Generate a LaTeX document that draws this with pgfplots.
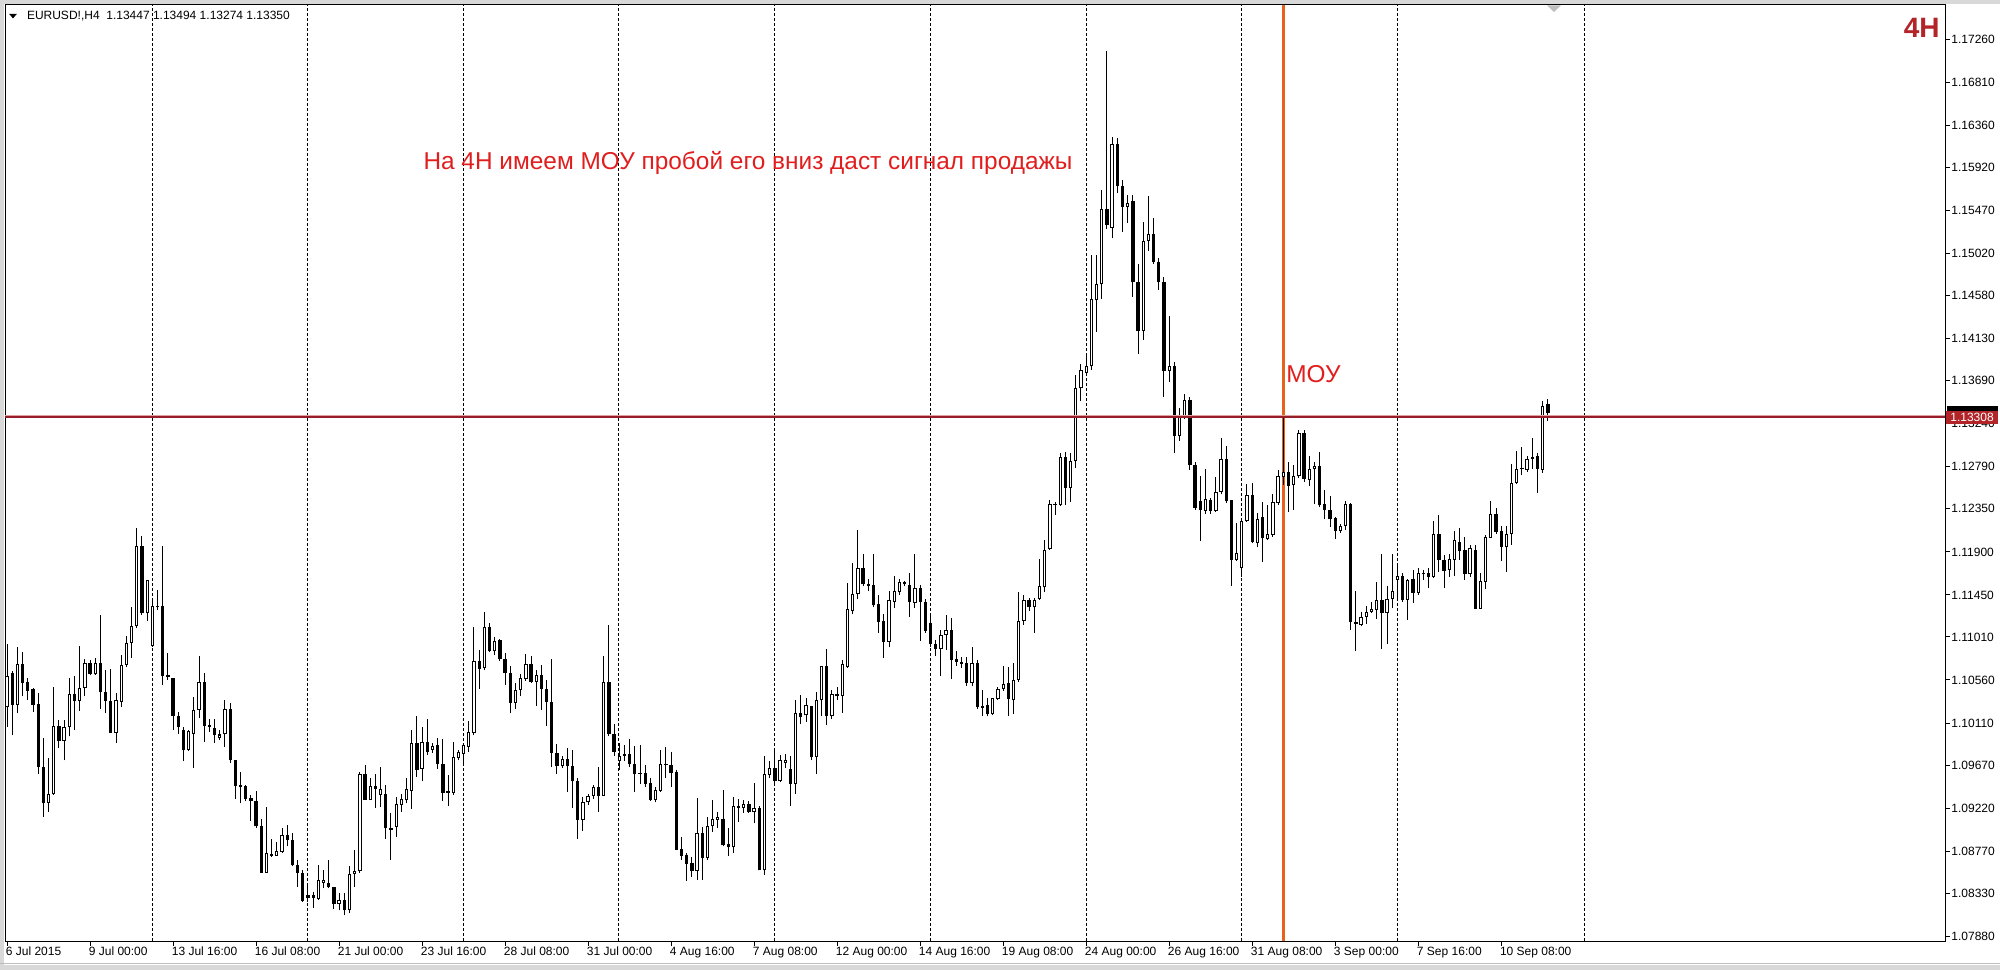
\documentclass[border=0pt]{standalone}
\usepackage{fontspec}
\setmainfont{Liberation Sans}
\usepackage{pgfplots}
\usepackage{pgfplotstable}
\pgfplotsset{compat=1.18}
\definecolor{hline}{RGB}{150,30,40}
\definecolor{hlinelt}{RGB}{225,160,160}
\definecolor{orng}{RGB}{232,98,30}
\definecolor{txtred}{RGB}{225,30,30}
\definecolor{lbl}{RGB}{178,36,40}
\definecolor{frm}{RGB}{190,190,190}

\pgfplotstableread{
i O H L C
0 1.1028 1.1094 1.1007 1.1060
1 1.1063 1.1065 1.0998 1.1030
2 1.1030 1.1091 1.1021 1.1073
3 1.1073 1.1085 1.1039 1.1053
4 1.1054 1.1058 1.1035 1.1045
5 1.1047 1.1048 1.1023 1.1030
6 1.1031 1.1042 1.0958 1.0965
7 1.0965 1.0995 1.0913 1.0927
8 1.0927 1.0974 1.0918 1.0937
9 1.0937 1.1049 1.0936 1.1008
10 1.1008 1.1014 1.0985 1.0992
11 1.0992 1.1014 1.0972 1.1007
12 1.1007 1.1058 1.0997 1.1041
13 1.1041 1.1060 1.1004 1.1034
14 1.1034 1.1092 1.1024 1.1048
15 1.1048 1.1078 1.1039 1.1074
16 1.1074 1.1077 1.1061 1.1062
17 1.1062 1.1079 1.1061 1.1074
18 1.1074 1.1124 1.1026 1.1043
19 1.1043 1.1066 1.1021 1.1034
20 1.1034 1.1067 1.1001 1.1001
21 1.1001 1.1042 1.0990 1.1035
22 1.1033 1.1082 1.1028 1.1072
23 1.1072 1.1102 1.1070 1.1095
24 1.1095 1.1132 1.1079 1.1112
25 1.1112 1.1215 1.1110 1.1196
26 1.1196 1.1207 1.1124 1.1126
27 1.1126 1.1161 1.1118 1.1161
28 1.1092 1.1142 1.1091 1.1133
29 1.1133 1.1150 1.1129 1.1132
30 1.1133 1.1196 1.1051 1.1060
31 1.1061 1.1084 1.1056 1.1059
32 1.1058 1.1058 1.1004 1.1018
33 1.1018 1.1023 1.1000 1.1007
34 1.1004 1.1007 1.0971 1.0983
35 1.0983 1.1004 1.0982 1.1003
36 1.1000 1.1038 1.0964 1.1025
37 1.1025 1.1081 1.1016 1.1054
38 1.1054 1.1063 1.0991 1.1008
39 1.1009 1.1015 1.1002 1.1007
40 1.1006 1.1015 1.0990 1.0998
41 1.0995 1.1004 1.0993 1.0999
42 1.0999 1.1035 1.0986 1.1026
43 1.1026 1.1032 1.0969 1.0972
44 1.0972 1.0972 1.0932 1.0945
45 1.0946 1.0960 1.0927 1.0944
46 1.0945 1.0946 1.0929 1.0932
47 1.0933 1.0936 1.0909 1.0929
48 1.0929 1.0940 1.0901 1.0903
49 1.0903 1.0911 1.0854 1.0854
50 1.0854 1.0923 1.0854 1.0875
51 1.0874 1.0890 1.0871 1.0872
52 1.0872 1.0887 1.0872 1.0877
53 1.0876 1.0901 1.0875 1.0894
54 1.0894 1.0904 1.0882 1.0889
55 1.0889 1.0896 1.0861 1.0863
56 1.0863 1.0868 1.0840 1.0854
57 1.0854 1.0857 1.0824 1.0825
58 1.0831 1.0843 1.0824 1.0828
59 1.0831 1.0834 1.0818 1.0828
60 1.0827 1.0862 1.0826 1.0847
61 1.0844 1.0857 1.0838 1.0847
62 1.0844 1.0868 1.0838 1.0839
63 1.0839 1.0840 1.0817 1.0822
64 1.0822 1.0833 1.0815 1.0826
65 1.0826 1.0833 1.0810 1.0815
66 1.0815 1.0861 1.0812 1.0853
67 1.0853 1.0878 1.0840 1.0856
68 1.0856 1.0960 1.0854 1.0958
69 1.0958 1.0967 1.0931 1.0931
70 1.0931 1.0953 1.0930 1.0945
71 1.0945 1.0958 1.0922 1.0942
72 1.0936 1.0965 1.0923 1.0942
73 1.0937 1.0946 1.0890 1.0901
74 1.0901 1.0917 1.0868 1.0899
75 1.0902 1.0934 1.0892 1.0926
76 1.0925 1.0937 1.0918 1.0932
77 1.0930 1.0953 1.0927 1.0942
78 1.0940 1.1004 1.0921 1.0990
79 1.0990 1.1018 1.0955 1.0962
80 1.0963 1.1007 1.0950 1.0991
81 1.0991 1.1015 1.0978 1.0981
82 1.0983 1.0990 1.0980 1.0987
83 1.0988 1.0995 1.0963 1.0968
84 1.0968 1.0994 1.0929 1.0938
85 1.0940 1.0957 1.0924 1.0938
86 1.0938 1.0991 1.0936 1.0975
87 1.0974 1.0983 1.0972 1.0981
88 1.0979 1.0990 1.0969 1.0988
89 1.0986 1.1013 1.0981 1.1002
90 1.1001 1.1111 1.0998 1.1076
91 1.1076 1.1087 1.1047 1.1068
92 1.1069 1.1127 1.1066 1.1111
93 1.1111 1.1116 1.1085 1.1086
94 1.1086 1.1101 1.1082 1.1097
95 1.1098 1.1099 1.1076 1.1078
96 1.1078 1.1084 1.1051 1.1063
97 1.1063 1.1071 1.1021 1.1032
98 1.1032 1.1053 1.1026 1.1046
99 1.1046 1.1062 1.1039 1.1058
100 1.1057 1.1083 1.1055 1.1073
101 1.1073 1.1081 1.1053 1.1054
102 1.1054 1.1066 1.1029 1.1061
103 1.1061 1.1072 1.1025 1.1047
104 1.1047 1.1056 1.1008 1.1033
105 1.1033 1.1078 1.0965 1.0980
106 1.0980 1.0989 1.0958 1.0966
107 1.0966 1.0977 1.0964 1.0973
108 1.0973 1.0985 1.0939 1.0966
109 1.0966 1.0983 1.0922 1.0950
110 1.0950 1.0953 1.0890 1.0910
111 1.0910 1.0934 1.0898 1.0928
112 1.0928 1.0937 1.0925 1.0935
113 1.0935 1.0946 1.0932 1.0944
114 1.0944 1.0965 1.0918 1.0935
115 1.0935 1.1081 1.0935 1.1054
116 1.1054 1.1114 1.0997 1.1000
117 1.1000 1.1010 1.0977 1.0981
118 1.0971 1.0990 1.0962 1.0977
119 1.0977 1.0988 1.0971 1.0978
120 1.0979 1.0994 1.0965 1.0968
121 1.0968 1.0987 1.0939 1.0958
122 1.0959 1.0988 1.0947 1.0958
123 1.0959 1.0967 1.0944 1.0947
124 1.0948 1.0953 1.0929 1.0931
125 1.0931 1.0944 1.0928 1.0941
126 1.0940 1.0983 1.0939 1.0968
127 1.0968 1.0986 1.0953 1.0967
128 1.0967 1.0981 1.0944 1.0959
129 1.0960 1.0962 1.0878 1.0878
130 1.0879 1.0892 1.0868 1.0872
131 1.0873 1.0875 1.0846 1.0864
132 1.0865 1.0871 1.0850 1.0856
133 1.0856 1.0933 1.0847 1.0896
134 1.0896 1.0902 1.0847 1.0870
135 1.0870 1.0913 1.0868 1.0903
136 1.0903 1.0931 1.0897 1.0911
137 1.0910 1.0918 1.0901 1.0913
138 1.0911 1.0941 1.0882 1.0883
139 1.0884 1.0901 1.0872 1.0881
140 1.0881 1.0934 1.0875 1.0924
141 1.0924 1.0932 1.0908 1.0922
142 1.0922 1.0930 1.0917 1.0926
143 1.0926 1.0929 1.0917 1.0918
144 1.0918 1.0948 1.0906 1.0922
145 1.0922 1.0924 1.0857 1.0857
146 1.0857 1.0977 1.0852 1.0958
147 1.0957 1.0971 1.0953 1.0964
148 1.0964 1.0983 1.0947 1.0950
149 1.0950 1.0978 1.0949 1.0972
150 1.0969 1.0979 1.0964 1.0972
151 1.0963 1.0976 1.0924 1.0947
152 1.0947 1.1035 1.0937 1.1022
153 1.1022 1.1040 1.1010 1.1017
154 1.1019 1.1037 1.1012 1.1030
155 1.1029 1.1029 1.0972 1.0975
156 1.0975 1.1043 1.0958 1.1035
157 1.1035 1.1071 1.1018 1.1071
158 1.1071 1.1088 1.1009 1.1018
159 1.1018 1.1046 1.1015 1.1041
160 1.1039 1.1049 1.1035 1.1041
161 1.1039 1.1077 1.1022 1.1073
162 1.1070 1.1157 1.1069 1.1130
163 1.1128 1.1178 1.1125 1.1146
164 1.1146 1.1213 1.1141 1.1173
165 1.1173 1.1188 1.1154 1.1156
166 1.1156 1.1162 1.1149 1.1154
167 1.1155 1.1188 1.1132 1.1134
168 1.1135 1.1145 1.1105 1.1117
169 1.1118 1.1125 1.1079 1.1096
170 1.1096 1.1149 1.1090 1.1140
171 1.1138 1.1165 1.1131 1.1149
172 1.1148 1.1162 1.1145 1.1159
173 1.1156 1.1160 1.1154 1.1158
174 1.1155 1.1168 1.1122 1.1138
175 1.1137 1.1188 1.1131 1.1152
176 1.1152 1.1155 1.1097 1.1138
177 1.1138 1.1141 1.1105 1.1107
178 1.1116 1.1123 1.1091 1.1094
179 1.1094 1.1098 1.1081 1.1088
180 1.1088 1.1108 1.1060 1.1103
181 1.1103 1.1124 1.1087 1.1108
182 1.1108 1.1121 1.1057 1.1077
183 1.1078 1.1086 1.1071 1.1075
184 1.1075 1.1080 1.1069 1.1073
185 1.1074 1.1080 1.1050 1.1053
186 1.1053 1.1091 1.1050 1.1074
187 1.1074 1.1077 1.1026 1.1028
188 1.1029 1.1046 1.1018 1.1027
189 1.1030 1.1037 1.1018 1.1020
190 1.1020 1.1037 1.1019 1.1037
191 1.1036 1.1049 1.1035 1.1047
192 1.1047 1.1071 1.1045 1.1052
193 1.1053 1.1070 1.1018 1.1036
194 1.1035 1.1074 1.1020 1.1056
195 1.1056 1.1148 1.1054 1.1118
196 1.1118 1.1145 1.1114 1.1140
197 1.1140 1.1142 1.1128 1.1132
198 1.1132 1.1142 1.1105 1.1140
199 1.1141 1.1183 1.1140 1.1154
200 1.1153 1.1202 1.1148 1.1192
201 1.1193 1.1244 1.1192 1.1240
202 1.1240 1.1242 1.1229 1.1239
203 1.1239 1.1293 1.1238 1.1289
204 1.1289 1.1294 1.1239 1.1257
205 1.1257 1.1293 1.1242 1.1285
206 1.1285 1.1375 1.1278 1.1361
207 1.1361 1.1387 1.1348 1.1380
208 1.1377 1.1395 1.1375 1.1384
209 1.1384 1.1500 1.1380 1.1454
210 1.1453 1.1501 1.1420 1.1470
211 1.1470 1.1569 1.1455 1.1549
212 1.1549 1.1714 1.1528 1.1532
213 1.1529 1.1624 1.1518 1.1617
214 1.1617 1.1623 1.1565 1.1573
215 1.1573 1.1579 1.1525 1.1551
216 1.1551 1.1563 1.1534 1.1555
217 1.1557 1.1563 1.1457 1.1472
218 1.1472 1.1491 1.1397 1.1421
219 1.1421 1.1535 1.1412 1.1515
220 1.1515 1.1562 1.1505 1.1522
221 1.1522 1.1539 1.1491 1.1493
222 1.1493 1.1497 1.1464 1.1472
223 1.1472 1.1477 1.1352 1.1379
224 1.1379 1.1437 1.1368 1.1384
225 1.1384 1.1389 1.1293 1.1311
226 1.1311 1.1341 1.1306 1.1332
227 1.1331 1.1355 1.1329 1.1349
228 1.1349 1.1352 1.1276 1.1281
229 1.1281 1.1284 1.1234 1.1236
230 1.1243 1.1269 1.1201 1.1234
231 1.1233 1.1277 1.1230 1.1245
232 1.1244 1.1246 1.1230 1.1233
233 1.1233 1.1268 1.1232 1.1253
234 1.1253 1.1309 1.1251 1.1287
235 1.1287 1.1301 1.1241 1.1243
236 1.1244 1.1244 1.1154 1.1182
237 1.1182 1.1220 1.1180 1.1189
238 1.1173 1.1223 1.1164 1.1222
239 1.1222 1.1261 1.1221 1.1250
240 1.1250 1.1262 1.1199 1.1200
241 1.1199 1.1231 1.1195 1.1224
242 1.1226 1.1242 1.1179 1.1204
243 1.1203 1.1239 1.1202 1.1209
244 1.1208 1.1251 1.1206 1.1242
245 1.1241 1.1276 1.1239 1.1269
246 1.1268 1.1333 1.1260 1.1274
247 1.1274 1.1284 1.1232 1.1259
248 1.1260 1.1281 1.1234 1.1269
249 1.1269 1.1318 1.1267 1.1314
250 1.1314 1.1318 1.1263 1.1266
251 1.1265 1.1290 1.1259 1.1277
252 1.1277 1.1284 1.1240 1.1280
253 1.1280 1.1294 1.1237 1.1239
254 1.1240 1.1255 1.1224 1.1234
255 1.1234 1.1248 1.1216 1.1224
256 1.1225 1.1226 1.1203 1.1212
257 1.1212 1.1219 1.1210 1.1217
258 1.1217 1.1243 1.1213 1.1240
259 1.1240 1.1241 1.1108 1.1117
260 1.1117 1.1149 1.1086 1.1115
261 1.1114 1.1127 1.1112 1.1122
262 1.1122 1.1133 1.1115 1.1127
263 1.1127 1.1138 1.1126 1.1130
264 1.1129 1.1159 1.1120 1.1140
265 1.1140 1.1188 1.1088 1.1126
266 1.1126 1.1154 1.1094 1.1141
267 1.1141 1.1188 1.1131 1.1149
268 1.1161 1.1175 1.1140 1.1165
269 1.1165 1.1168 1.1138 1.1140
270 1.1140 1.1162 1.1119 1.1161
271 1.1162 1.1171 1.1137 1.1147
272 1.1147 1.1173 1.1145 1.1168
273 1.1167 1.1171 1.1161 1.1168
274 1.1168 1.1173 1.1152 1.1164
275 1.1164 1.1222 1.1163 1.1209
276 1.1209 1.1229 1.1169 1.1182
277 1.1182 1.1187 1.1152 1.1170
278 1.1171 1.1188 1.1164 1.1183
279 1.1182 1.1212 1.1165 1.1202
280 1.1200 1.1215 1.1182 1.1191
281 1.1192 1.1206 1.1161 1.1167
282 1.1167 1.1197 1.1164 1.1194
283 1.1192 1.1197 1.1130 1.1130
284 1.1130 1.1168 1.1130 1.1160
285 1.1158 1.1208 1.1151 1.1206
286 1.1205 1.1243 1.1204 1.1230
287 1.1230 1.1236 1.1209 1.1211
288 1.1212 1.1217 1.1180 1.1195
289 1.1195 1.1217 1.1169 1.1209
290 1.1209 1.1282 1.1197 1.1262
291 1.1262 1.1295 1.1261 1.1277
292 1.1277 1.1300 1.1270 1.1278
293 1.1276 1.1290 1.1274 1.1287
294 1.1287 1.1309 1.1277 1.1289
295 1.1290 1.1293 1.1252 1.1277
296 1.1276 1.1348 1.1273 1.1343
297 1.13447 1.13494 1.13274 1.13350
}\candles

\begin{document}
\begin{tikzpicture}[x=1pt,y=1pt]
\useasboundingbox (0,0) rectangle (1000,485);
\fill[white] (0,0) rectangle (1000,485);
% window frame
\fill[frm!60] (0,483) rectangle (1000,485);
\fill[frm!60] (0,0) rectangle (2,485);
\fill[frm!60] (0,0) rectangle (1000,2.5);
\draw[frm, line width=0.6pt] (0,3.2) -- (1000,3.2);
\begin{axis}[
  at={(2.5pt,482.5pt)}, anchor=north west,
  scale only axis, width=970pt, height=468pt,
  xmin=-0.4, xmax=373.55, ymin=1.0783, ymax=1.1762,
  axis line style={black, line width=0.5pt},
  xtick={0,16,32,48,64,80,96,112,128,144,160,176,192,208,224,240,256,272,288},
  xticklabels={6 Jul 2015, 9 Jul 00:00, 13 Jul 16:00, 16 Jul 08:00, 21 Jul 00:00, 23 Jul 16:00, 28 Jul 08:00, 31 Jul 00:00, 4 Aug 16:00, 7 Aug 08:00, 12 Aug 00:00, 14 Aug 16:00, 19 Aug 08:00, 24 Aug 00:00, 26 Aug 16:00, 31 Aug 08:00, 3 Sep 00:00, 7 Sep 16:00, 10 Sep 08:00},
  ytick={1.07880,1.08330,1.08770,1.09220,1.09670,1.10110,1.10560,1.11010,1.11450,1.11900,1.12350,1.12790,1.13240,1.13690,1.14130,1.14580,1.15020,1.15470,1.15920,1.16360,1.16810,1.17260},
  yticklabels={1.07880,1.08330,1.08770,1.09220,1.09670,1.10110,1.10560,1.11010,1.11450,1.11900,1.12350,1.12790,1.13240,1.13690,1.14130,1.14580,1.15020,1.15470,1.15920,1.16360,1.16810,1.17260},
  xtick pos=left, ytick pos=right, yticklabel pos=right,
  tick align=outside, major tick length=2.5pt,
  tick style={black, line width=0.5pt},
  xticklabel style={anchor=north west, inner sep=0pt, font=\fontsize{6}{7}\selectfont, xshift=-0.8pt, yshift=-0.3pt},
  yticklabel style={anchor=west, inner sep=0pt, font=\fontsize{6}{7}\selectfont, xshift=0.5pt},
  clip=true,
]
% dashed vertical grid
\pgfplotsinvokeforeach{28.1,58,88,117.9,148,178,208,238,268,304}{
  \draw[black, line width=0.5pt, dash pattern=on 1.5pt off 1pt] (axis cs:#1,1.0783) -- (axis cs:#1,1.1762);
}
% orange vertical line
\draw[orng, line width=1.5pt] (axis cs:246,1.0783) -- (axis cs:246,1.1762);
% wicks
\addplot[draw=none, mark=none, forget plot,
  error bars/.cd, y dir=plus, y explicit, error mark=none,
  error bar style={draw=black, line width=0.5pt, solid}]
  table[x=i, y=L, y error plus expr={\thisrow{H}-\thisrow{L}}] {\candles};
% body outline / black bodies
\addplot[draw=none, mark=none, forget plot,
  error bars/.cd, y dir=plus, y explicit, error mark=none,
  error bar style={draw=black, line width=1.65pt, solid}]
  table[x=i, y expr={min(\thisrow{O},\thisrow{C})}, y error plus expr={max(abs(\thisrow{C}-\thisrow{O}),0.00012)}] {\candles};
% white bodies
\addplot[draw=none, mark=none, forget plot,
  error bars/.cd, y dir=plus, y explicit, error mark=none,
  error bar style={draw=white, line width=0.65pt, solid}]
  table[x=i, y expr={min(\thisrow{O},\thisrow{C})+0.000105}, y error plus expr={(\thisrow{C}>\thisrow{O})*max(abs(\thisrow{C}-\thisrow{O})-0.00021,0)}] {\candles};
% horizontal level
\draw[hlinelt, line width=0.7pt] (axis cs:-0.4,1.13320) -- (axis cs:373.55,1.13320);
\draw[hline, line width=1pt] (axis cs:-0.4,1.13308) -- (axis cs:373.55,1.13308);
\end{axis}
% price labels on the right
\fill[black] (973.5,274.9) rectangle (999,281.9);
\fill[lbl] (973,273.1) rectangle (999,279.7);
\node[white, inner sep=0pt, font=\fontsize{6}{7}\selectfont] at (986,276.4) {1.13308};
% header
\fill[black] (4.6,478) -- (8.4,478) -- (6.5,475.8) -- cycle;
\node[anchor=west, inner sep=0pt, font=\fontsize{6}{7}\selectfont] at (13.3,476.8) {EURUSD!,H4\ \ 1.13447 1.13494 1.13274 1.13350};
% chart shift marker
\fill[frm] (773.5,482.3) -- (780.5,482.3) -- (777,479) -- cycle;
% annotations
\node[txtred, inner sep=0pt, font=\fontsize{12.2}{14}\selectfont] at (374,403.5) {На 4H имеем МОУ пробой его вниз даст сигнал продажы};
\node[txtred, anchor=west, inner sep=0pt, font=\fontsize{12.2}{14}\selectfont] at (643,298) {МОУ};
\node[lbl, anchor=east, inner sep=0pt, font=\bfseries\fontsize{14}{14}\selectfont] at (970,471) {4H};
\end{tikzpicture}
\end{document}
